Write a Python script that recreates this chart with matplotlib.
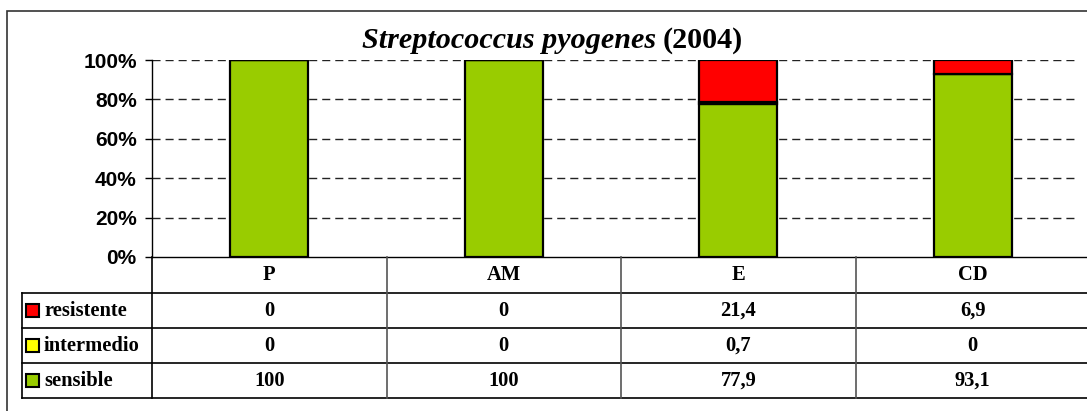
import matplotlib
matplotlib.use("Agg")
import matplotlib.pyplot as plt
from matplotlib.lines import Line2D
from matplotlib.patches import Rectangle
from matplotlib.transforms import blended_transform_factory

# --- data -------------------------------------------------------------
categories = ["P", "AM", "E", "CD"]
series_names = ["resistente", "intermedio", "sensible"]
resistente = [0, 0, 21.4, 6.9]
intermedio = [0, 0, 0.7, 0]
sensible = [100, 100, 77.9, 93.1]
series_colors = {"resistente": "#FF0000", "intermedio": "#FFFF00", "sensible": "#99CC00"}
yticks = [0, 20, 40, 60, 80, 100]

W, H = 1087, 411
plt.rcParams["lines.scale_dashes"] = False
fig = plt.figure(figsize=(W / 100, H / 100), dpi=100)


def fx(px):
    return px / W


def fy(py):
    return 1 - py / H


# outer chart frame
fig.patches.append(Rectangle((fx(7), fy(H + 20)), fx(W + 40), fy(11) - fy(H + 20),
                             transform=fig.transFigure, fill=False,
                             edgecolor="#333333", linewidth=1.2))

ax = fig.add_axes([fx(152), fy(257), fx(1090) - fx(152), fy(60) - fy(257)])
ax.set_xlim(-0.5, len(categories) - 0.5)
ax.set_ylim(0, 100)

x = list(range(len(categories)))
bw = 0.333
edge = dict(edgecolor="black", linewidth=1.6)
bottom2 = [s + i for s, i in zip(sensible, intermedio)]
ax.bar(x, sensible, bw, color=series_colors["sensible"], zorder=3, **edge)
ax.bar(x, intermedio, bw, bottom=sensible, color=series_colors["intermedio"], zorder=3, **edge)
ax.bar(x, resistente, bw, bottom=bottom2, color=series_colors["resistente"], zorder=3, **edge)

ax.set_yticks(yticks)
ax.set_yticklabels([f"{v}%" for v in yticks], fontfamily="Liberation Sans",
                   fontweight="bold", fontsize=15)
ax.tick_params(axis="y", direction="out", length=5, width=1, pad=6)
ax.set_xticks([])
for v in yticks[1:]:
    ax.plot([-0.5, 3.45], [v, v], color="#222222", linewidth=1, dashes=(5.8, 3.6),
            zorder=1)
for s in ("top", "right"):
    ax.spines[s].set_visible(False)
ax.spines["left"].set_linewidth(1)
ax.spines["bottom"].set_linewidth(1)

# --- data table below the plot -----------------------------------------
tr = blended_transform_factory(ax.transData, fig.transFigure)
row_lines = [257, 293, 328, 363, 398]
row_centers = [(a + b) / 2 for a, b in zip(row_lines[:-1], row_lines[1:])]
tab_font = dict(fontfamily="Liberation Serif", fontweight="bold", fontsize=14.8)

# horizontal rules
for py in row_lines[1:]:
    fig.add_artist(Line2D([fx(22), 1.01], [fy(py), fy(py)], transform=fig.transFigure,
                          color="black", linewidth=1.2))
# vertical rules
fig.add_artist(Line2D([fx(22), fx(22)], [fy(293), fy(398)], transform=fig.transFigure,
                      color="black", linewidth=1.2))
for i in range(len(categories) + 1):
    xb = i - 0.5
    col = "black" if i == 0 else "#555555"
    fig.add_artist(Line2D([xb, xb], [fy(257), fy(398)], transform=tr, color=col,
                          linewidth=1.2, clip_on=False))

# header row with category names
for i, c in enumerate(categories):
    fig.text(i, fy(row_centers[0]), c, transform=tr, ha="center", va="center", **tab_font)

values = {"resistente": resistente, "intermedio": intermedio, "sensible": sensible}


def fmt(v):
    s = f"{v:g}"
    return s.replace(".", ",")


for r, name in enumerate(series_names):
    yc = fy(row_centers[r + 1])
    fig.patches.append(Rectangle((fx(26), yc - (13 / H) / 2), 13 / W, 13 / H,
                                 transform=fig.transFigure,
                                 facecolor=series_colors[name], edgecolor="black",
                                 linewidth=1.5))
    fig.text(fx(44), yc, name, ha="left", va="center", **tab_font)
    for i, v in enumerate(values[name]):
        fig.text(i, yc, fmt(v), transform=tr, ha="center", va="center", **tab_font)

# --- title -------------------------------------------------------------
t1 = fig.text(fx(362), fy(48), "Streptococcus pyogenes", ha="left", va="baseline",
              fontfamily="Liberation Serif", fontweight="bold", fontstyle="italic",
              fontsize=21.7)
fig.canvas.draw()
bb = t1.get_window_extent()
fig.text((bb.x1 + 6) / W, fy(48), "(2004)", ha="left", va="baseline",
         fontfamily="Liberation Serif", fontweight="bold", fontsize=21.7)

fig.savefig("out.png", dpi=100)
